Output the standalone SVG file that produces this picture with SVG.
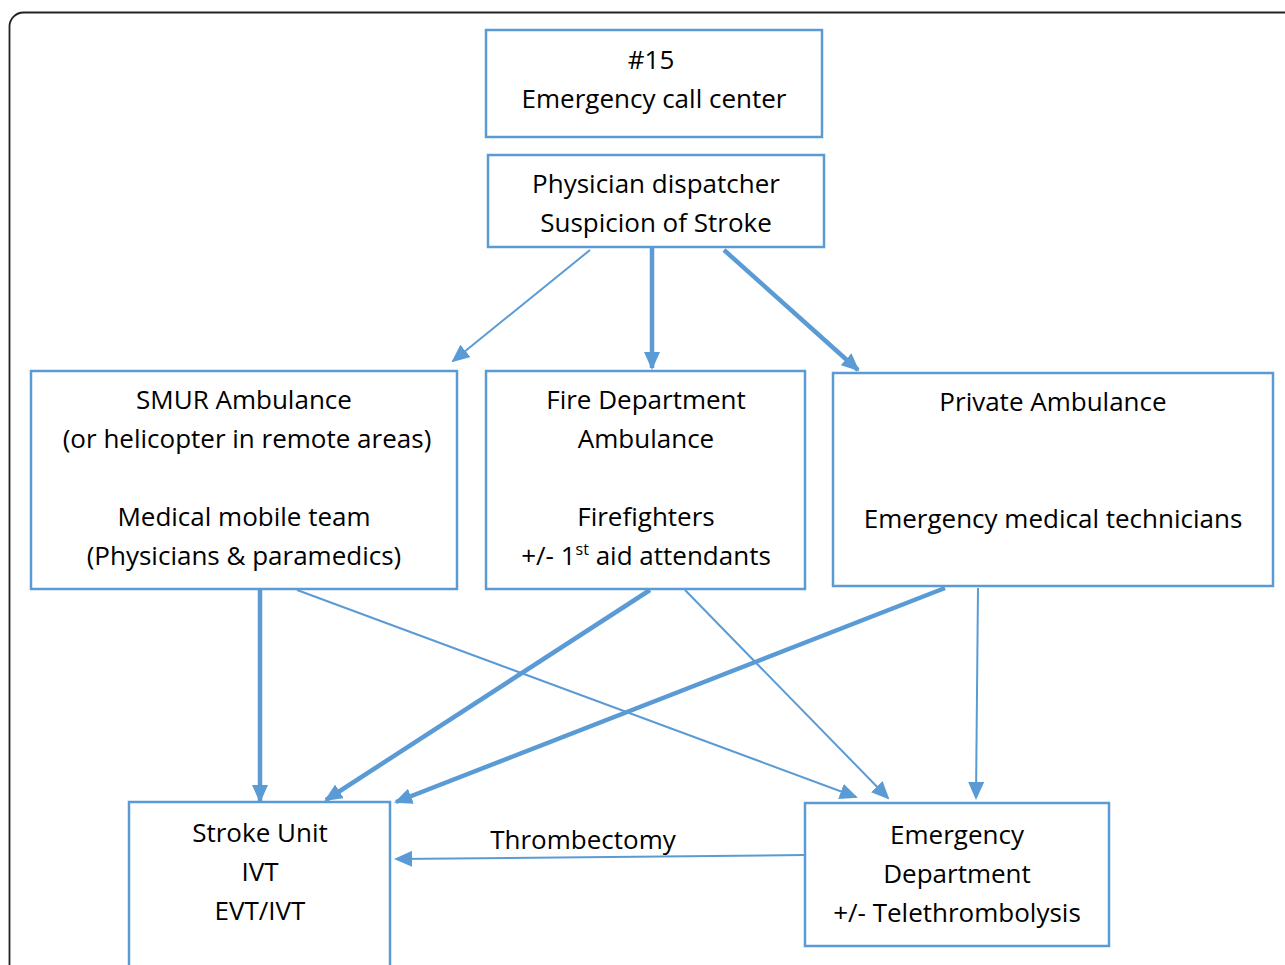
<svg xmlns="http://www.w3.org/2000/svg" width="1285" height="965" viewBox="0 0 1285 965">
<style>
.box{fill:#fff;stroke:#5b9bd5;stroke-width:2.5}
text{font-family:"Open Sans",Lato,sans-serif;font-size:26px;fill:#000;text-anchor:middle}
.c{stroke:#5b9bd5;fill:none}
.thin{stroke-width:2}
.thick{stroke-width:4.5}
</style>
<defs>
<marker id="ah" markerUnits="userSpaceOnUse" markerWidth="18" markerHeight="16" viewBox="0 0 18 16" refX="16" refY="8" orient="auto">
<path d="M0,0 L18,8 L0,16 z" fill="#5b9bd5"/>
</marker>
</defs>
<rect x="9.5" y="12.5" width="1300" height="1000" rx="14" fill="#fff" stroke="#222" stroke-width="1.8"/>
<g id="connectors">
<line class="c thin" x1="590" y1="250" x2="453" y2="361" marker-end="url(#ah)"/>
<line class="c thick" x1="652" y1="248" x2="652" y2="368" marker-end="url(#ah)"/>
<line class="c thick" x1="724" y1="250" x2="858" y2="370" marker-end="url(#ah)"/>
<line class="c thick" x1="260" y1="590" x2="260" y2="801" marker-end="url(#ah)"/>
<line class="c thin" x1="297" y1="590" x2="856" y2="797" marker-end="url(#ah)"/>
<line class="c thick" x1="650" y1="590" x2="326" y2="800" marker-end="url(#ah)"/>
<line class="c thin" x1="685" y1="590" x2="888" y2="798" marker-end="url(#ah)"/>
<line class="c thick" x1="945" y1="588" x2="396" y2="802" marker-end="url(#ah)"/>
<line class="c thin" x1="978" y1="588" x2="976" y2="798" marker-end="url(#ah)"/>
<line class="c thin" x1="805" y1="855" x2="396" y2="859" marker-end="url(#ah)"/>
<text x="583" y="849">Thrombectomy</text>
</g>
<g id="call-center">
<rect class="box" x="486" y="30" width="336" height="107"/>
<text x="651" y="69">#15</text>
<text x="654" y="108">Emergency call center</text>
</g>
<g id="dispatcher">
<rect class="box" x="488" y="155" width="336" height="92"/>
<text x="656" y="193">Physician dispatcher</text>
<text x="656" y="232">Suspicion of Stroke</text>
</g>
<g id="smur">
<rect class="box" x="31" y="371" width="426" height="218"/>
<text x="244" y="409">SMUR Ambulance</text>
<text x="247" y="448">(or helicopter in remote areas)</text>
<text x="244" y="526">Medical mobile team</text>
<text x="244" y="565">(Physicians &amp; paramedics)</text>
</g>
<g id="fire">
<rect class="box" x="486" y="371" width="319" height="218"/>
<text x="646" y="409">Fire Department</text>
<text x="646" y="448">Ambulance</text>
<text x="646" y="526">Firefighters</text>
<text x="646" y="565">+/- 1<tspan font-size="16" dy="-10">st</tspan><tspan dy="10"> aid attendants</tspan></text>
</g>
<g id="private">
<rect class="box" x="833" y="373" width="440" height="213"/>
<text x="1053" y="411">Private Ambulance</text>
<text x="1053" y="528">Emergency medical technicians</text>
</g>
<g id="stroke-unit">
<rect class="box" x="129" y="802" width="261" height="200"/>
<text x="260" y="842">Stroke Unit</text>
<text x="260" y="881">IVT</text>
<text x="260" y="920">EVT/IVT</text>
</g>
<g id="ed">
<rect class="box" x="805" y="803" width="304" height="143"/>
<text x="957" y="844">Emergency</text>
<text x="957" y="883">Department</text>
<text x="957" y="922">+/- Telethrombolysis</text>
</g>
</svg>
